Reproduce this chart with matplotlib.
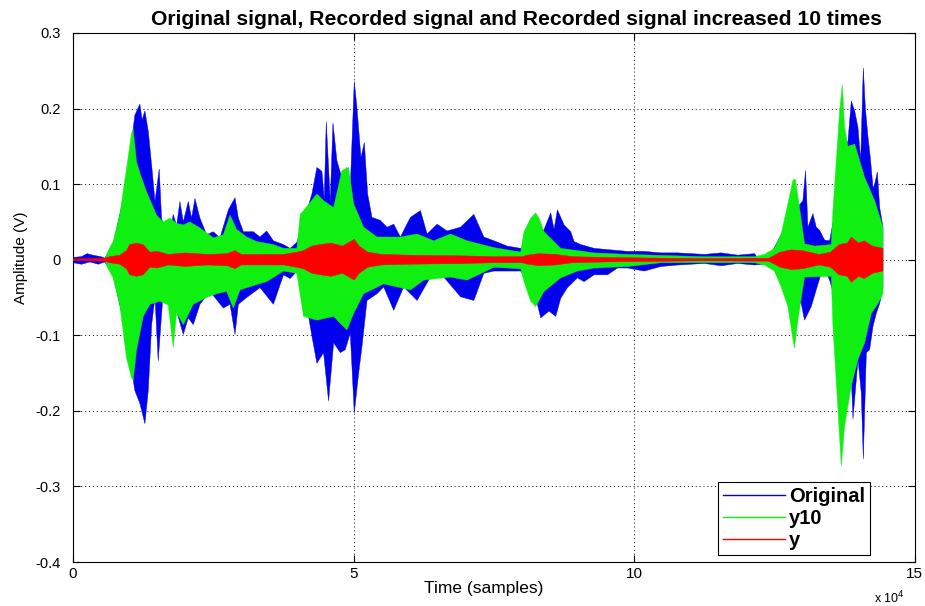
import matplotlib
matplotlib.use('Agg')
import matplotlib.pyplot as plt
from matplotlib.lines import Line2D
import numpy as np

plt.rcParams['font.family'] = ['Liberation Sans', 'DejaVu Sans']

# envelopes: sample index -> amplitude (V)
# Original (blue)
orig_t_hi = [0, 1500, 2500, 3500, 5000, 5650, 7140, 9520, 11000, 11900, 12300, 12800, 13400,
             14000, 14600, 15350, 15770, 16360, 17250, 17850, 18450, 19040, 19640, 20530,
             21120, 21720, 22610, 23800, 24990, 26180, 27670, 28860, 29450, 30350, 32130,
             33320, 34500, 35700, 37500, 38690, 39880, 41070, 42560, 43450, 44340, 44760,
             45120, 45830, 46310, 47020, 47910, 48800, 49400, 50110, 50590, 51300, 51900,
             52490, 53270, 54760, 55950, 57140, 58330, 60110, 61900, 63090, 64870, 66660,
             69040, 71420, 73200, 75000, 77380, 79760, 80950, 83930, 85120, 85710, 86310,
             87500, 88690, 89280, 90470, 92850, 95830, 98800, 101780, 104750, 107730,
             112500, 115480, 118450, 121430, 122020, 124400, 127380, 129160, 130050, 130530,
             130950, 131840, 132430, 133030, 133920, 134810, 135700, 137490, 138090, 138680,
             139280, 139870, 140350, 140820, 141180, 141660, 142070, 142550, 142850, 143320,
             143740, 144330]
orig_hi = [0.003, 0.004, 0.008, 0.006, 0.004, 0.002, 0.020, 0.100, 0.191, 0.206, 0.185, 0.197,
           0.170, 0.125, 0.077, 0.120, 0.055, 0.037, 0.033, 0.060, 0.045, 0.077, 0.050, 0.077,
           0.055, 0.081, 0.055, 0.033, 0.037, 0.029, 0.066, 0.082, 0.055, 0.037, 0.037, 0.030,
           0.038, 0.025, 0.020, 0.015, 0.023, 0.050, 0.087, 0.122, 0.117, 0.080, 0.183, 0.077,
           0.181, 0.131, 0.108, 0.122, 0.095, 0.236, 0.201, 0.135, 0.155, 0.087, 0.056, 0.052,
           0.043, 0.047, 0.030, 0.056, 0.065, 0.034, 0.047, 0.038, 0.043, 0.060, 0.030, 0.025,
           0.018, 0.015, 0.020, 0.040, 0.062, 0.040, 0.066, 0.046, 0.037, 0.024, 0.020, 0.015,
           0.013, 0.011, 0.011, 0.009, 0.009, 0.007, 0.009, 0.006, 0.008, 0.002, 0.008, 0.050,
           0.070, 0.078, 0.118, 0.043, 0.061, 0.043, 0.039, 0.026, 0.025, 0.060, 0.150, 0.157,
           0.210, 0.197, 0.175, 0.131, 0.254, 0.201, 0.162, 0.135, 0.095, 0.100, 0.116, 0.069,
           0.043]
orig_t_lo = [0, 1500, 3000, 4500, 5650, 7140, 9520, 11000, 11900, 12800, 13400, 14000, 14600,
             15170, 16070, 16960, 17550, 18450, 19640, 20530, 21420, 22610, 24400, 26780,
             27970, 28860, 29450, 30940, 33320, 35700, 37500, 38690, 39880, 41070, 42560,
             43450, 44640, 45530, 46430, 47620, 48510, 49400, 50110, 50890, 51480, 52380,
             54160, 55350, 57140, 58920, 61300, 63680, 66060, 69040, 71420, 73200, 75000,
             79760, 82140, 83330, 84820, 86010, 86900, 88090, 89880, 91070, 92850, 95230,
             97020, 98800, 101780, 104750, 107730, 112500, 115480, 118450, 121430, 124400,
             127380, 129750, 130350, 131540, 132430, 133320, 134220, 134810, 135700, 137490,
             138680, 138980, 139870, 140460, 140820, 141360, 141950, 142550, 143140, 143740,
             144330]
orig_lo = [-0.004, -0.006, -0.003, -0.006, -0.003, -0.020, -0.100, -0.173, -0.190, -0.217,
           -0.173, -0.086, -0.050, -0.134, -0.042, -0.024, -0.059, -0.068, -0.099, -0.077,
           -0.086, -0.059, -0.042, -0.064, -0.059, -0.099, -0.059, -0.050, -0.037, -0.059,
           -0.020, -0.025, -0.015, -0.036, -0.101, -0.137, -0.123, -0.187, -0.110, -0.123,
           -0.119, -0.097, -0.203, -0.150, -0.115, -0.054, -0.045, -0.036, -0.067, -0.036,
           -0.054, -0.023, -0.023, -0.049, -0.054, -0.018, -0.015, -0.015, -0.040, -0.077,
           -0.068, -0.075, -0.051, -0.037, -0.024, -0.029, -0.020, -0.020, -0.011, -0.011,
           -0.015, -0.009, -0.007, -0.005, -0.008, -0.005, -0.007, -0.005, -0.050, -0.058,
           -0.080, -0.062, -0.040, -0.018, -0.018, -0.027, -0.050, -0.130, -0.155, -0.211,
           -0.132, -0.176, -0.264, -0.123, -0.119, -0.088, -0.071, -0.058, -0.036]

# y10 (green)
y10_t_hi = [5650, 6250, 7140, 8330, 9520, 10410, 10710, 11300, 11900, 13090, 14875, 16070,
            17250, 18450, 19640, 20825, 22610, 24990, 26780, 27970, 29150, 30940, 32720,
            35700, 37500, 39880, 40480, 41070, 43450, 44640, 46430, 47910, 49100, 50000,
            51780, 54160, 58330, 61300, 64280, 67250, 70230, 75000, 79760, 80360, 81550,
            82440, 83030, 83930, 86900, 92850, 98800, 112500, 121430, 123210, 124990, 126190,
            127380, 128270, 128680, 129460, 130350, 132140, 135110, 135410, 136000, 136600,
            137070, 137490, 138090, 139280, 141060, 142850, 144330]
y10_hi = [0.0, 0.012, 0.024, 0.060, 0.120, 0.167, 0.173, 0.130, 0.115, 0.090, 0.059, 0.050,
          0.055, 0.048, 0.046, 0.050, 0.042, 0.029, 0.033, 0.059, 0.040, 0.030, 0.024, 0.020,
          0.015, 0.015, 0.060, 0.065, 0.087, 0.078, 0.069, 0.118, 0.122, 0.074, 0.043, 0.030,
          0.030, 0.034, 0.025, 0.034, 0.025, 0.016, 0.010, 0.037, 0.055, 0.062, 0.055, 0.037,
          0.015, 0.009, 0.007, 0.004, 0.004, 0.007, 0.015, 0.034, 0.074, 0.105, 0.107, 0.069,
          0.021, 0.018, 0.020, 0.065, 0.130, 0.197, 0.232, 0.175, 0.150, 0.153, 0.109, 0.078,
          0.043]
y10_t_lo = [5650, 6250, 7140, 8330, 9520, 10410, 10710, 11300, 12500, 13700, 15470, 16960,
            17850, 18450, 19640, 21420, 23800, 25590, 27370, 28560, 29750, 30940, 34500,
            37500, 39880, 41070, 43450, 46430, 48800, 50000, 51780, 55350, 60110, 62490,
            67250, 70230, 75000, 79760, 80360, 81550, 82440, 83930, 86900, 89880, 92850,
            98800, 104750, 112500, 121430, 123210, 124990, 126190, 127380, 128270, 128570,
            129160, 130350, 135110, 135410, 136300, 136900, 137490, 138680, 139870, 141060,
            142250, 143440, 144330]
y10_lo = [0.0, -0.012, -0.024, -0.060, -0.130, -0.156, -0.160, -0.120, -0.075, -0.059, -0.055,
          -0.060, -0.116, -0.070, -0.086, -0.059, -0.050, -0.045, -0.042, -0.064, -0.040,
          -0.037, -0.029, -0.015, -0.018, -0.075, -0.080, -0.075, -0.093, -0.071, -0.045,
          -0.032, -0.040, -0.027, -0.023, -0.027, -0.010, -0.012, -0.029, -0.055, -0.062,
          -0.042, -0.024, -0.015, -0.011, -0.009, -0.004, -0.004, -0.004, -0.007, -0.015,
          -0.036, -0.062, -0.105, -0.117, -0.080, -0.023, -0.022, -0.088, -0.198, -0.273,
          -0.220, -0.167, -0.132, -0.110, -0.071, -0.058, -0.045]

# y (red), half-width of the band
y_t = [0, 5650, 6500, 8330, 9520, 10100, 11300, 12500, 13700, 15000, 17000, 20000, 24000,
       27500, 28860, 30000, 37500, 39880, 41070, 42560, 44000, 46000, 48000, 50110, 51000,
       52500, 55000, 60000, 70000, 75000, 80000, 81000, 83000, 86000, 89000, 95000, 105000,
       112500, 124000, 126000, 128000, 130000, 133000, 135000, 136500, 138000, 138680,
       140000, 141000, 142500, 144330]
y_amp = [0.001, 0.002, 0.004, 0.006, 0.012, 0.020, 0.022, 0.020, 0.010, 0.011, 0.007, 0.009,
         0.007, 0.008, 0.012, 0.007, 0.007, 0.010, 0.012, 0.018, 0.020, 0.022, 0.018, 0.027,
         0.018, 0.010, 0.007, 0.006, 0.005, 0.004, 0.004, 0.006, 0.008, 0.007, 0.004, 0.003,
         0.002, 0.0015, 0.002, 0.010, 0.013, 0.012, 0.007, 0.010, 0.020, 0.022, 0.030, 0.022,
         0.025, 0.018, 0.015]

x_ticks = [0, 50000, 100000, 150000]
x_ticklabels = ['0', '5', '10', '15']
y_ticks = [-0.4, -0.3, -0.2, -0.1, 0, 0.1, 0.2, 0.3]
y_ticklabels = ['-0.4', '-0.3', '-0.2', '-0.1', '0', '0.1', '0.2', '0.3']

BLUE = '#0000ee'
GREEN = '#10f010'
RED = '#ff0000'


def band(ax, t_hi, hi, t_lo, lo, color, z):
    xs = np.r_[t_hi, t_lo[::-1]]
    ys = np.r_[hi, lo[::-1]]
    ax.fill(xs, ys, facecolor=color, edgecolor=color, linewidth=0.3, zorder=z)


fig = plt.figure(figsize=(9.25, 6.06), dpi=100)
ax = fig.add_axes([0.079, 0.0726, 0.910, 0.873])

band(ax, orig_t_hi, orig_hi, orig_t_lo, orig_lo, BLUE, 2)
band(ax, y10_t_hi, y10_hi, y10_t_lo, y10_lo, GREEN, 3)
amp = np.array(y_amp)
band(ax, y_t, amp, y_t, -amp, RED, 4)

ax.set_xlim(0, 150000)
ax.set_ylim(-0.4, 0.3)
ax.set_xticks(x_ticks)
ax.set_xticklabels(x_ticklabels)
ax.set_yticks(y_ticks)
ax.set_yticklabels(y_ticklabels)
ax.tick_params(direction='in', top=True, right=True, length=5, width=0.8)
ax.tick_params(axis='x', labelsize=11)
ax.tick_params(axis='y', labelsize=10.5, pad=9)
ax.grid(True, linestyle=(0, (1, 3)), color='black', linewidth=0.7)
ax.set_axisbelow(True)
for s in ax.spines.values():
    s.set_linewidth(0.8)

ax.set_title('Original signal, Recorded signal and Recorded signal increased 10 times',
             fontsize=15.2, fontweight='bold', pad=6, x=0.527)
ax.set_xlabel('Time (samples)', fontsize=12.5)
ax.xaxis.set_label_coords(0.488, -0.036)
ax.set_ylabel('Amplitude (V)', fontsize=11)
ax.yaxis.set_label_coords(-0.053, 0.575)
ax.text(0.988, -0.068, r'x 10$^{4}$', transform=ax.transAxes, ha='right', va='center',
        fontsize=9)

handles = [Line2D([], [], color=BLUE, lw=1), Line2D([], [], color=GREEN, lw=1),
           Line2D([], [], color=RED, lw=1)]
leg = ax.legend(handles, ['Original', 'y10', 'y'], loc='lower right',
                bbox_to_anchor=(0.947, 0.013), prop={'size': 14.5, 'weight': 'bold'},
                handlelength=3.1, handletextpad=0.2, labelspacing=0.15, borderpad=0.25,
                borderaxespad=0.0, fancybox=False, framealpha=1, edgecolor='black')
leg.get_frame().set_linewidth(0.8)

fig.savefig('out.png', dpi=100)
